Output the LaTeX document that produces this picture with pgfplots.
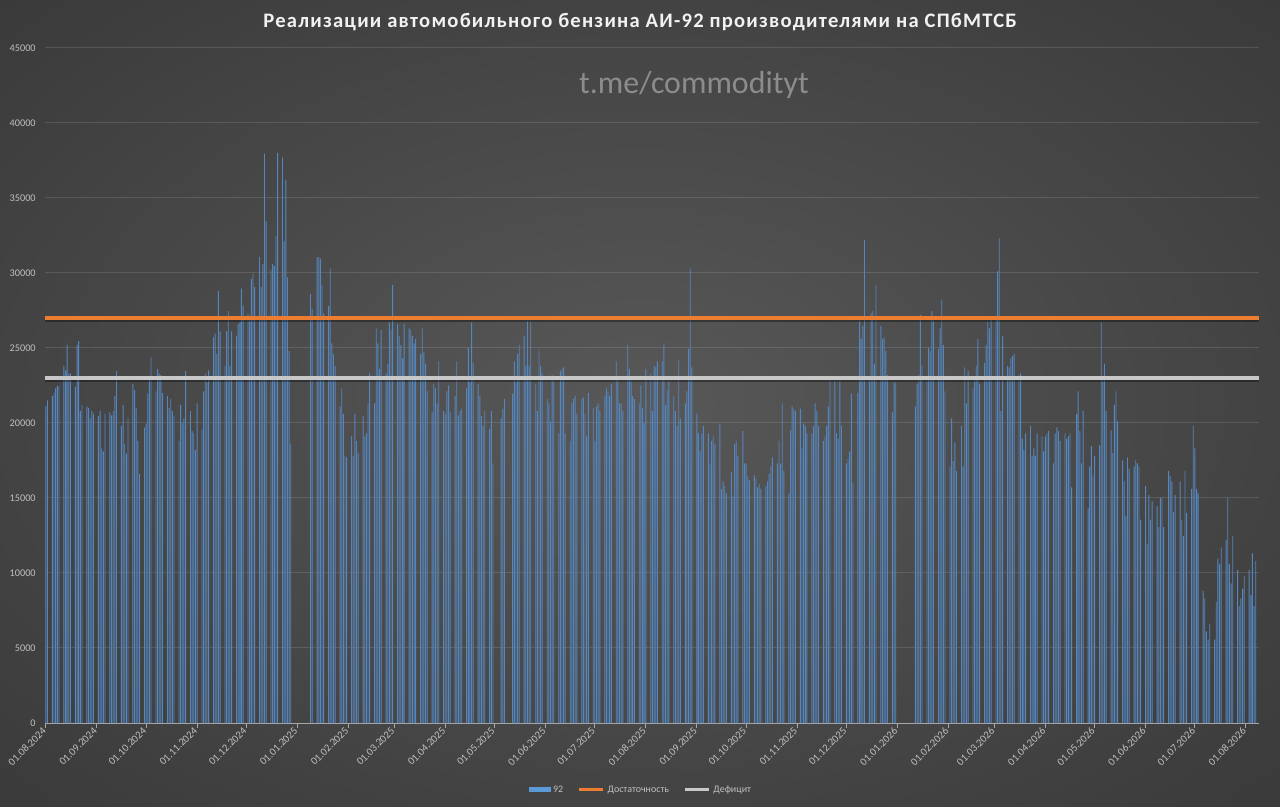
\documentclass[border=0pt]{standalone}
\usepackage{pgfplots}
\pgfplotsset{compat=1.18}
\usepackage{pgfplotstable}
\usepackage{fontspec}
\setmainfont{Carlito}
\definecolor{bgc}{HTML}{585858}
\definecolor{bgm}{HTML}{414141}
\definecolor{bgo}{HTML}{2E2E2E}
\definecolor{bge}{HTML}{252525}
\definecolor{barblue}{HTML}{5686BE}
\definecolor{legblue}{HTML}{5B9BD5}
\definecolor{orangeL}{HTML}{ED7D31}
\definecolor{grayL}{HTML}{C8C8C8}
\definecolor{lbl}{HTML}{BFBFBF}
\definecolor{axl}{HTML}{A6A6A6}
\pgfdeclareradialshading{bgshade}{\pgfpoint{0bp}{0bp}}{color(0bp)=(bgc); color(27bp)=(bgm); color(50bp)=(bgo); color(71bp)=(bge)}
\pgfplotstableread[row sep=\\]{
x y\\
0 21100\\1 21500\\4 21800\\5 22000\\6 22300\\7 22450\\8 22450\\11 23800\\12 23500\\13 25200\\14 23300\\15 23300\\18 22400\\19 25200\\20 25450\\21 20800\\22 21200\\25 21100\\26 21000\\27 20300\\28 20800\\29 20600\\
32 20450\\33 20800\\34 18300\\35 18100\\36 20600\\39 20700\\40 20500\\41 20800\\42 21800\\43 23450\\46 19800\\47 21200\\48 18600\\49 17950\\50 20300\\53 22600\\54 22200\\55 21000\\56 18800\\57 16600\\60 19700\\
61 19950\\62 21950\\63 23000\\64 24400\\67 22100\\68 23600\\69 23300\\70 23200\\71 22000\\74 21800\\75 21000\\76 21600\\77 20800\\78 20450\\81 18800\\82 21200\\83 20000\\84 20300\\85 23450\\88 20800\\89 19450\\90 19300\\91 18200\\
92 21300\\95 19600\\96 22100\\97 23300\\98 22700\\99 23500\\102 25700\\103 25950\\104 24600\\105 28800\\106 26100\\109 23800\\110 26100\\111 27450\\112 23800\\113 26100\\116 25800\\117 26600\\118 26700\\119 28950\\120 27800\\
123 27300\\124 26800\\125 29600\\126 29950\\127 29050\\130 31050\\131 29050\\132 30600\\133 37950\\134 33450\\137 30200\\138 30600\\139 30450\\140 32450\\141 38000\\144 37700\\145 32100\\146 36200\\147 29700\\148 24800\\149 18600\\
161 28600\\162 27600\\165 31050\\166 31050\\167 30950\\168 29200\\169 27300\\172 27800\\173 30300\\174 25300\\175 24600\\176 23800\\179 21100\\180 22300\\181 20600\\182 17800\\183 17700\\
186 19100\\187 17800\\188 20600\\189 18800\\190 18000\\193 20450\\194 19100\\195 19300\\196 21300\\197 23300\\200 21300\\201 26300\\202 25300\\203 23600\\204 26200\\207 23300\\208 23950\\209 26700\\210 26200\\211 29200\\
214 26600\\215 25800\\216 25200\\217 24300\\218 26600\\221 26300\\222 26200\\223 25800\\224 25300\\225 25600\\228 24600\\229 26300\\230 24700\\231 23950\\232 22100\\235 20700\\236 22600\\237 22300\\238 21300\\239 24100\\242 20800\\
243 20600\\244 22100\\245 22500\\246 20700\\249 21800\\250 24100\\251 20500\\252 20800\\253 20950\\256 22300\\257 25000\\258 22700\\259 26700\\260 24000\\263 22600\\264 21800\\265 20450\\266 19800\\267 20800\\270 19600\\271 20800\\272 17300\\
277 20300\\278 20950\\279 21600\\284 21950\\285 24100\\286 22700\\287 24600\\288 25200\\291 25800\\292 23800\\293 26800\\294 23800\\295 26800\\298 22600\\299 20800\\300 24800\\301 23800\\302 23300\\
305 21600\\306 21300\\307 20100\\308 23200\\309 22800\\312 19300\\313 23450\\314 23600\\315 23700\\316 19300\\319 18800\\320 21300\\321 21600\\322 21800\\323 20600\\326 21600\\327 21700\\328 20600\\329 19100\\330 22000\\333 21000\\
334 18800\\335 21100\\336 21300\\337 20800\\340 21800\\341 22300\\342 22100\\343 21800\\344 22600\\347 24100\\348 22800\\349 21300\\350 21300\\351 20800\\354 25200\\355 23600\\356 22800\\357 21800\\358 21600\\361 21300\\362 22500\\363 21000\\364 20000\\
365 23600\\368 23300\\369 20800\\370 23800\\371 23700\\372 24100\\375 24100\\376 25200\\377 21200\\378 22200\\379 22800\\382 21800\\383 20800\\384 19800\\385 24200\\386 20300\\389 21300\\390 22100\\391 24950\\392 30300\\393 23700\\
396 20600\\397 19300\\398 18100\\399 19300\\400 19800\\403 19300\\404 17300\\405 18800\\406 19100\\407 18600\\410 19950\\411 15600\\412 16100\\413 15800\\414 15300\\417 16700\\418 15100\\419 18600\\420 18800\\421 17800\\424 19450\\425 17300\\
426 17300\\427 16450\\428 16200\\431 16500\\432 16300\\433 15700\\434 15950\\435 15600\\438 15800\\439 16100\\440 16600\\441 17100\\442 17700\\445 17300\\446 18800\\447 17300\\448 21300\\449 16800\\452 15300\\453 19500\\454 21100\\455 20950\\456 20800\\
459 20950\\460 18300\\461 19950\\462 19800\\463 19300\\466 19300\\467 19800\\468 21300\\469 20800\\470 19800\\473 18800\\474 19100\\475 19800\\476 21100\\477 22800\\480 22800\\481 19300\\482 18950\\483 22800\\484 19800\\
487 17300\\488 17600\\489 18100\\490 21950\\491 16000\\494 22000\\495 26800\\496 25600\\497 26450\\498 32200\\501 23100\\502 27300\\503 27450\\504 23950\\505 29200\\508 26450\\509 25600\\510 25700\\511 24800\\512 23200\\515 20700\\516 22700\\517 22700\\
529 21100\\530 22600\\531 23200\\532 27200\\533 23800\\536 22800\\537 25000\\538 24800\\539 27450\\540 26800\\543 24950\\544 26300\\545 28200\\546 25200\\547 22100\\
550 17100\\551 20300\\552 17450\\553 18700\\554 16800\\557 19800\\558 17100\\559 23700\\560 21300\\561 23450\\564 22300\\565 22800\\566 23800\\567 25600\\568 22600\\571 24000\\572 25200\\573 26800\\574 26300\\575 27100\\
578 27000\\579 30100\\580 32300\\581 20800\\582 25800\\585 23800\\586 23700\\587 24300\\588 24450\\589 24600\\592 23200\\593 23300\\594 18950\\595 18200\\596 19300\\599 19800\\600 17800\\601 18300\\602 17800\\603 19300\\606 19100\\607 18100\\
608 19100\\609 19300\\610 19450\\613 17300\\614 19300\\615 19700\\616 19450\\617 18800\\620 19300\\621 18950\\622 19100\\623 19300\\624 15700\\627 20600\\628 22100\\629 19450\\630 17300\\631 20800\\634 14300\\635 17100\\636 18450\\637 16500\\
638 17800\\641 18500\\642 26700\\643 22800\\644 23950\\645 20800\\648 19500\\649 18000\\650 21200\\651 22100\\652 20100\\655 17500\\656 16100\\657 13800\\658 17700\\659 16950\\662 17100\\663 17550\\664 17300\\665 17100\\666 13550\\
669 15800\\670 11950\\671 15200\\672 13550\\673 14800\\676 14450\\677 13050\\678 15000\\679 15000\\680 13050\\683 16800\\684 16450\\685 16100\\686 14050\\687 15200\\690 16100\\691 13550\\692 12450\\693 16800\\694 14000\\697 15600\\698 19800\\
699 18300\\700 15600\\701 15300\\704 8800\\705 8300\\706 6100\\707 5550\\708 6600\\711 5550\\712 8050\\713 10950\\714 10600\\715 11700\\718 12200\\719 15000\\720 10600\\721 9300\\722 12450\\725 10200\\726 7800\\727 8300\\728 8950\\729 9800\\
732 10200\\733 8500\\734 11300\\735 7800\\736 10800\\
}\gasdata
\begin{document}
\begin{tikzpicture}
\shade[shading=bgshade] (0,0) rectangle (960bp,605.25bp);
\begin{axis}[
  at={(33.75bp,63bp)}, anchor=south west, scale only axis,
  width=910.5bp, height=506.25bp,
  xmin=-0.5, xmax=738, ymin=0, ymax=45000,
  axis x line*=bottom, axis y line*=left,
  y axis line style={draw=none},
  x axis line style={draw=axl, line width=0.75bp},
  ytick={0,5000,...,45000},
  scaled y ticks=false,
  ytick style={draw=none},
  xtick={0,31,61,92,122,153,184,212,243,273,304,334,365,396,426,457,487,518,549,577,608,638,669,699,730},
  xticklabels={01.08.2024,01.09.2024,01.10.2024,01.11.2024,01.12.2024,01.01.2025,01.02.2025,01.03.2025,01.04.2025,01.05.2025,01.06.2025,01.07.2025,01.08.2025,01.09.2025,01.10.2025,01.11.2025,01.12.2025,01.01.2026,01.02.2026,01.03.2026,01.04.2026,01.05.2026,01.06.2026,01.07.2026,01.08.2026},
  xtick style={draw=axl, line width=0.75bp},
  tick align=outside, major tick length=3.5bp,
  xticklabel style={rotate=45, anchor=east, font=\fontsize{8}{9}\selectfont, text=lbl, inner sep=1.5bp},
  yticklabel style={font=\fontsize{7.7}{9}\selectfont, text=lbl},
  ymajorgrids,
  major grid style={draw=white, opacity=0.12, line width=0.75bp},
  /pgf/number format/1000 sep={},
  /pgf/number format/assume math mode=true,
  legend columns=3,
  legend style={draw=none, fill=none, at={(0.491,-0.099)}, anchor=center,
    font=\fontsize{7.5}{9}\selectfont, text=lbl,
    /tikz/every even column/.append style={column sep=9bp}},
  legend cell align=left,
  clip=false,
]
\addplot[ybar, bar width=0.55, fill=barblue, draw=none,
  legend image code/.code={\fill[legblue] (0bp,-1.9bp) rectangle (16.5bp,1.9bp);}]
  table[x=x, y=y] {\gasdata};
\addlegendentry{92}
\addplot[draw=black, opacity=0.35, line width=2.6bp, forget plot] coordinates {(-0.5,26830) (738,26830)};
\addplot[draw=orangeL, line width=2.8bp,
  legend image code/.code={\draw[orangeL, line width=2.3bp] (0bp,0bp) -- (18bp,0bp);}]
  coordinates {(-0.5,27000) (738,27000)};
\addlegendentry{Достаточность}
\addplot[draw=black, opacity=0.35, line width=2.6bp, forget plot] coordinates {(-0.5,22830) (738,22830)};
\addplot[draw=grayL, line width=2.8bp,
  legend image code/.code={\draw[grayL, line width=2.3bp] (0bp,0bp) -- (18bp,0bp);}]
  coordinates {(-0.5,23000) (738,23000)};
\addlegendentry{Дефицит}
\end{axis}
\node[font=\fontsize{15.5}{18}\selectfont\bfseries\addfontfeatures{LetterSpace=6}, text=white!95!black] at (480bp,588.75bp) {Реализации автомобильного бензина АИ-92 производителями на СПбМТСБ};
\node[font=\fontsize{24}{28}\selectfont, text=white!55!black] at (520.5bp,541.5bp) {t.me/commodityt};
\pgfresetboundingbox
\path (0,0) rectangle (960bp,605.25bp);
\end{tikzpicture}
\end{document}
